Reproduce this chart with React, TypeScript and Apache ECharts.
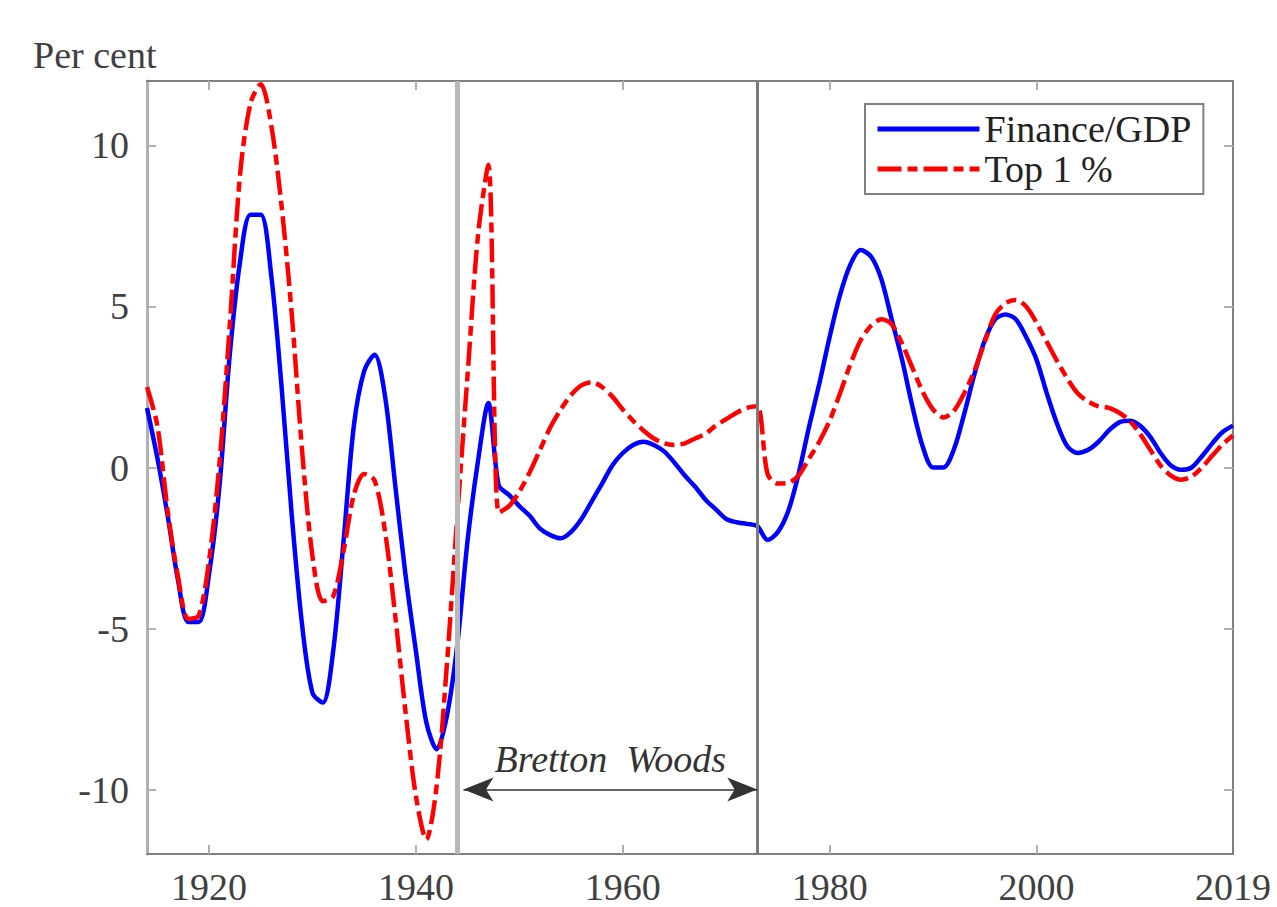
import React, { useEffect, useRef } from "react";
import * as echarts from "echarts";

const FIRST_YEAR = 1914;
const LAST_YEAR = 2019;

const financeGdp: number[] = [
  1.85, 0.3, -1.5, -3.5, -4.8, -4.8, -3.3, -0.6, 3.5, 6.4,
  7.85, 7.85, 6.0, 2.55, -1.5, -4.9, -7.0, -7.3, -5.7, -2.3,
  1.3, 3.0, 3.5, 2.25, -0.55, -3.35, -5.7, -7.9, -8.75, -7.7,
  -5.5, -2.25, 0.2, 2.0, -0.55, -0.85, -1.2, -1.5, -1.9, -2.1,
  -2.2, -2.0, -1.6, -1.05, -0.5, 0.07, 0.45, 0.7, 0.8, 0.7,
  0.5, 0.15, -0.25, -0.6, -1.0, -1.3, -1.6, -1.7, -1.75, -1.82,
  -2.25, -2.0, -1.35, -0.2, 1.25, 2.6, 4.05, 5.35, 6.3, 6.75,
  6.55, 5.85, 4.6, 3.35, 1.9, 0.65, 0.0, 0.0, 0.55, 1.65,
  2.9, 3.95, 4.6, 4.75, 4.6, 4.05, 3.35, 2.3, 1.35, 0.65,
  0.45, 0.55, 0.8, 1.15, 1.4, 1.45, 1.3, 0.95, 0.45, 0.06,
  -0.07, 0.0, 0.35, 0.75, 1.1, 1.3,
];

const top1: number[] = [
  2.5, 1.3, -1.35, -3.4, -4.7, -4.6, -2.9, 0.1, 4.4, 9.1,
  11.3, 11.9, 10.65, 8.15, 4.75, 0.5, -2.75, -4.15, -4.0, -2.6,
  -0.85, -0.2, -0.4, -1.95, -4.6, -7.6, -10.2, -11.55, -9.9, -6.1,
  -1.5, 2.9, 7.2, 9.4, -1.4, -1.2, -0.75, -0.15, 0.55, 1.25,
  1.8, 2.25, 2.55, 2.65, 2.5, 2.2, 1.8, 1.45, 1.15, 0.9,
  0.75, 0.7, 0.75, 0.9, 1.05, 1.3, 1.5, 1.7, 1.85, 1.9,
  -0.2, -0.5, -0.48, -0.25, 0.27, 0.8, 1.45, 2.3, 3.2, 3.95,
  4.4, 4.6, 4.45, 3.85, 3.1, 2.35, 1.8, 1.55, 1.75, 2.3,
  3.0, 3.9, 4.75, 5.1, 5.2, 5.0, 4.5, 3.9, 3.3, 2.75,
  2.3, 2.05, 1.9, 1.85, 1.7, 1.45, 1.05, 0.55, 0.06, -0.25,
  -0.38, -0.28, 0.0, 0.37, 0.72, 1.0,
];

const years: number[] = financeGdp.map((_, i) => FIRST_YEAR + i);

const xTickValues = [1920, 1940, 1960, 1980, 2000];
const xLabelValues = [1920, 1940, 1960, 1980, 2000, 2019];
const yTickValues = [-10, -5, 0, 5, 10];
const Y_MIN = -12;
const Y_MAX = 12;

const regimeBreaks = [1944, 1973];
const brettonWoodsSpan = [1944.6, 1973];
const brettonWoodsLevel = -10;

const FONT = "Liberation Serif";

export default function App() {
  const ref = useRef<HTMLDivElement>(null);

  useEffect(() => {
    document.body.style.margin = "0";
    if (!ref.current) return;
    const chart = echarts.init(ref.current, undefined, { renderer: "svg" });

    const financeData = years.map((y, i) => [y, financeGdp[i]]);
    const topData = years.map((y, i) => [y, top1[i]]);

    const baseX = {
      type: "value" as const,
      min: FIRST_YEAR,
      max: LAST_YEAR,
      splitLine: { show: false },
    };
    const baseY = {
      type: "value" as const,
      min: Y_MIN,
      max: Y_MAX,
      splitLine: { show: false },
    };
    const plain = (v: number) => String(v);

    chart.setOption({
      animation: false,
      backgroundColor: "#ffffff",
      textStyle: { fontFamily: FONT },
      grid: { left: 147, right: 44, top: 81, bottom: 53, containLabel: false },
      xAxis: [
        {
          ...baseX,
          position: "bottom",
          axisLine: { show: true, onZero: false, lineStyle: { color: "#808080", width: 2 } },
          axisTick: {
            show: true,
            inside: true,
            length: 9,
            customValues: xTickValues,
            lineStyle: { color: "#b0b0b0", width: 2 },
          },
          axisLabel: {
            customValues: xLabelValues,
            formatter: plain,
            fontFamily: FONT,
            fontSize: 38,
            lineHeight: 38,
            color: "#404040",
            margin: 14,
          },
        },
        {
          ...baseX,
          position: "top",
          axisLine: { show: true, onZero: false, lineStyle: { color: "#808080", width: 2 } },
          axisTick: {
            show: true,
            inside: true,
            length: 9,
            customValues: xTickValues,
            lineStyle: { color: "#b0b0b0", width: 2 },
          },
          axisLabel: { show: false },
        },
      ],
      yAxis: [
        {
          ...baseY,
          position: "left",
          axisLine: { show: true, onZero: false, lineStyle: { color: "#b0b0b0", width: 3 } },
          axisTick: {
            show: true,
            inside: true,
            length: 9,
            customValues: yTickValues,
            lineStyle: { color: "#b0b0b0", width: 2 },
          },
          axisLabel: {
            customValues: yTickValues,
            formatter: plain,
            fontFamily: FONT,
            fontSize: 38,
            color: "#404040",
            margin: 18,
          },
        },
        {
          ...baseY,
          position: "right",
          axisLine: { show: true, onZero: false, lineStyle: { color: "#808080", width: 2 } },
          axisTick: {
            show: true,
            inside: true,
            length: 9,
            customValues: yTickValues,
            lineStyle: { color: "#b0b0b0", width: 2 },
          },
          axisLabel: { show: false },
        },
      ],
      legend: {
        data: ["Finance/GDP", "Top 1 %"],
        orient: "vertical",
        left: 865,
        top: 104,
        padding: [6, 12, 6, 10],
        itemGap: 2,
        itemWidth: 102,
        itemHeight: 36,
        borderColor: "#808080",
        borderWidth: 2,
        backgroundColor: "#ffffff",
        itemStyle: { opacity: 0, borderWidth: 0 },
        lineStyle: { width: 5 },
        textStyle: { fontFamily: FONT, fontSize: 38, color: "#222222" },
      },
      graphic: [
        {
          type: "text",
          left: 33,
          top: 36,
          style: {
            text: "Per cent",
            fontFamily: FONT,
            fontSize: 38,
            fill: "#404040",
          },
        },
      ],
      series: [
        {
          name: "annotations",
          type: "line",
          data: [],
          silent: true,
          z: 1,
          markLine: {
            silent: true,
            symbol: ["none", "none"],
            label: { show: false },
            animation: false,
            data: [
              { xAxis: regimeBreaks[0], lineStyle: { color: "#b8b8b8", width: 5, type: "solid" } },
              { xAxis: regimeBreaks[1], lineStyle: { color: "#7a7a7a", width: 3, type: "solid" } },
              [
                {
                  coord: [brettonWoodsSpan[0], brettonWoodsLevel],
                  symbol: "arrow",
                  symbolSize: [18, 30],
                  lineStyle: { color: "#333333", width: 1.5, type: "solid" },
                  label: {
                    show: true,
                    position: "middle",
                    formatter: "Bretton\u2002Woods",
                    fontFamily: FONT,
                    fontStyle: "italic",
                    fontSize: 38,
                    color: "#333333",
                    distance: 12,
                  },
                },
                {
                  coord: [brettonWoodsSpan[1], brettonWoodsLevel],
                  symbol: "arrow",
                  symbolSize: [18, 30],
                },
              ],
            ],
          },
        },
        {
          name: "Finance/GDP",
          type: "line",
          data: financeData,
          showSymbol: false,
          symbol: "none",
          smooth: 0.3,
          z: 3,
          lineStyle: { color: "#0000ff", width: 4.5 },
          itemStyle: { color: "#0000ff" },
        },
        {
          name: "Top 1 %",
          type: "line",
          data: topData,
          showSymbol: false,
          symbol: "none",
          smooth: 0.3,
          z: 4,
          lineStyle: { color: "#ff0000", width: 4.5, type: [24, 6, 10, 6] },
          itemStyle: { color: "#ff0000" },
        },
      ],
    });

    return () => chart.dispose();
  }, []);

  return <div ref={ref} style={{ width: 1277, height: 907 }} />;
}
